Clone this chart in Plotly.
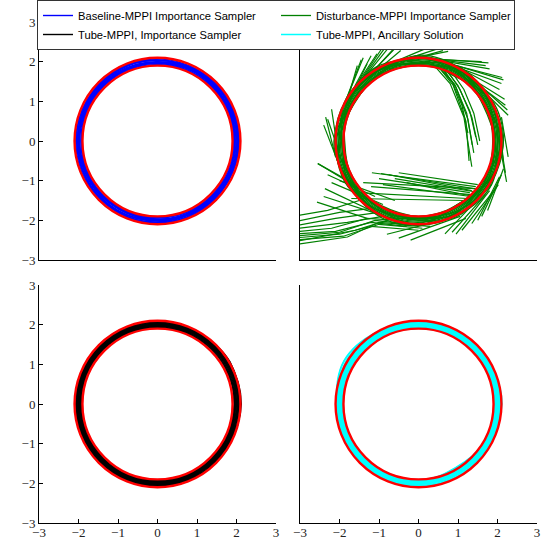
import numpy as np
import plotly.graph_objects as go

# ---------------- data ----------------
AXIS_RANGE = [-3, 3]
AXIS_TICKS = [-3, -2, -1, 0, 1, 2, 3]
TUBE_RADII = [1.9, 2.1]                       # red tube boundaries
RING_ANGLES_DEG = [0, 30, 60, 90, 120, 150, 180, 210, 240, 270, 300, 330, 360]

LEGEND_NAMES = ["Baseline-MPPI Importance Sampler",
                "Disturbance-MPPI Importance Sampler",
                "Tube-MPPI, Importance Sampler",
                "Tube-MPPI, Ancillary Solution"]

# Baseline-MPPI trajectories: radius at each ring angle
BASELINE_RADII = [
    [2.07, 2.07, 2.06, 2.07, 2.07, 2.06, 2.07, 2.07, 2.06, 2.07, 2.07, 2.06, 2.07],
    [2.05, 2.06, 2.05, 2.04, 2.05, 2.06, 2.05, 2.04, 2.05, 2.06, 2.05, 2.05, 2.05],
    [2.03, 2.04, 2.03, 2.04, 2.03, 2.02, 2.03, 2.04, 2.03, 2.02, 2.03, 2.04, 2.03],
    [2.01, 2.02, 2.01, 2.00, 2.01, 2.02, 2.01, 2.00, 2.02, 2.01, 2.01, 2.02, 2.01],
    [1.99, 1.98, 1.99, 2.00, 1.99, 1.98, 1.99, 2.00, 1.98, 1.99, 2.00, 1.99, 1.99],
    [1.97, 1.96, 1.97, 1.98, 1.97, 1.96, 1.97, 1.96, 1.97, 1.98, 1.97, 1.96, 1.97],
    [1.95, 1.95, 1.94, 1.95, 1.96, 1.95, 1.94, 1.95, 1.95, 1.94, 1.95, 1.96, 1.95],
    [1.93, 1.94, 1.93, 1.93, 1.94, 1.93, 1.93, 1.94, 1.93, 1.93, 1.94, 1.93, 1.93],
    [2.06, 2.04, 2.02, 2.04, 2.06, 2.04, 2.02, 2.04, 2.06, 2.04, 2.02, 2.04, 2.06],
    [1.96, 1.98, 2.00, 1.98, 1.96, 1.98, 2.00, 1.98, 1.96, 1.98, 2.00, 1.98, 1.96],
    [2.02, 2.00, 1.98, 1.96, 1.98, 2.00, 2.02, 2.04, 2.02, 2.00, 1.98, 2.00, 2.02],
    [2.04, 1.97, 2.01, 2.04, 2.06, 2.03, 1.99, 1.96, 1.94, 1.97, 2.01, 2.05, 2.04],
]

# Tube-MPPI importance sampler trajectories
TUBE_IS_RADII = [
    [2.08, 2.09, 2.08, 2.08, 2.09, 2.08, 2.08, 2.09, 2.08, 2.08, 2.09, 2.08, 2.08],
    [2.06, 2.10, 2.07, 2.06, 2.07, 2.06, 2.07, 2.06, 2.07, 2.06, 2.07, 2.05, 2.06],
    [2.04, 2.06, 2.05, 2.04, 2.05, 2.05, 2.04, 2.05, 2.04, 2.05, 2.04, 2.03, 2.04],
    [2.02, 2.04, 2.03, 2.02, 2.03, 2.03, 2.02, 2.03, 2.02, 2.03, 2.02, 2.01, 2.02],
    [2.00, 2.02, 2.01, 2.00, 2.01, 2.01, 2.00, 2.01, 2.00, 2.01, 2.00, 1.99, 2.00],
    [1.98, 2.00, 1.99, 1.98, 1.99, 1.99, 1.98, 1.99, 1.98, 1.99, 1.98, 1.97, 1.98],
    [1.96, 1.98, 1.97, 1.96, 1.97, 1.97, 1.96, 1.97, 1.96, 1.97, 1.96, 1.95, 1.96],
    [1.94, 1.96, 1.95, 1.94, 1.95, 1.95, 1.94, 1.95, 1.94, 1.95, 1.94, 1.93, 1.94],
    [1.95, 1.94, 1.93, 1.93, 1.93, 1.93, 1.93, 1.93, 1.93, 1.93, 1.93, 1.94, 1.95],
    [2.10, 2.11, 2.08, 2.07, 2.07, 2.08, 2.08, 2.07, 2.07, 2.08, 2.07, 2.09, 2.10],
    [2.12, 2.09, 2.05, 2.03, 2.03, 2.04, 2.05, 2.06, 2.05, 2.04, 2.03, 2.06, 2.12],
    [2.03, 2.12, 2.06, 2.00, 1.99, 2.00, 2.01, 2.02, 2.00, 1.98, 2.00, 2.02, 2.03],
    [2.10, 2.02, 2.00, 1.99, 2.00, 2.02, 2.03, 2.01, 2.00, 2.01, 2.02, 2.05, 2.10],
    [1.97, 2.08, 2.03, 1.97, 1.96, 1.96, 1.97, 1.98, 1.97, 1.96, 1.97, 1.98, 1.97],
]

# Tube-MPPI ancillary solution trajectories
TUBE_ANC_RADII = [
    [2.09, 2.09, 2.09, 2.09, 2.09, 2.10, 2.09, 2.09, 2.09, 2.09, 2.09, 2.09, 2.09],
    [2.07, 2.08, 2.07, 2.07, 2.07, 2.08, 2.07, 2.07, 2.07, 2.07, 2.07, 2.07, 2.07],
    [2.05, 2.05, 2.05, 2.05, 2.05, 2.06, 2.05, 2.05, 2.05, 2.05, 2.04, 2.05, 2.05],
    [2.03, 2.03, 2.03, 2.03, 2.03, 2.04, 2.03, 2.03, 2.03, 2.03, 2.02, 2.03, 2.03],
    [2.01, 2.01, 2.01, 2.01, 2.01, 2.02, 2.01, 2.01, 2.01, 2.01, 2.00, 2.01, 2.01],
    [1.99, 1.99, 1.99, 1.99, 1.99, 2.00, 1.99, 1.99, 1.99, 1.99, 1.98, 1.99, 1.99],
    [1.97, 1.97, 1.97, 1.97, 1.97, 1.98, 1.97, 1.97, 1.97, 1.97, 1.96, 1.97, 1.97],
    [1.95, 1.95, 1.95, 1.95, 1.95, 1.96, 1.95, 1.95, 1.95, 1.95, 1.94, 1.95, 1.95],
    [1.93, 1.93, 1.93, 1.93, 1.93, 1.94, 1.93, 1.93, 1.93, 1.93, 1.92, 1.93, 1.93],
    [1.91, 1.92, 1.91, 1.91, 1.91, 1.92, 1.91, 1.91, 1.91, 1.91, 1.90, 1.91, 1.91],
    [2.06, 2.07, 2.05, 2.04, 2.08, 2.17, 2.05, 2.03, 2.02, 2.02, 1.90, 1.98, 2.06],
    [2.11, 2.05, 2.03, 2.05, 2.10, 2.18, 2.07, 2.04, 2.01, 1.98, 1.87, 1.96, 2.11],
    [1.98, 2.02, 2.04, 2.06, 2.07, 2.13, 2.03, 2.00, 1.98, 1.96, 1.86, 1.94, 1.98],
]

# Disturbance-MPPI trajectories along the ring
DIST_RING_RADII = [
    [2.11, 2.10, 2.12, 2.11, 2.10, 2.11, 2.12, 2.10, 2.11, 2.12, 2.10, 2.11, 2.11],
    [2.08, 2.07, 2.09, 2.08, 2.07, 2.09, 2.08, 2.07, 2.08, 2.09, 2.08, 2.07, 2.08],
    [2.05, 2.04, 2.06, 2.05, 2.06, 2.05, 2.04, 2.05, 2.06, 2.05, 2.04, 2.06, 2.05],
    [2.02, 2.01, 2.03, 2.02, 2.03, 2.02, 2.01, 2.02, 2.03, 2.02, 2.01, 2.03, 2.02],
    [1.99, 1.98, 2.00, 1.99, 2.00, 1.99, 1.98, 1.99, 2.00, 1.99, 1.98, 2.00, 1.99],
    [1.96, 1.95, 1.97, 1.96, 1.97, 1.96, 1.95, 1.96, 1.97, 1.96, 1.95, 1.97, 1.96],
    [1.93, 1.92, 1.94, 1.93, 1.94, 1.93, 1.92, 1.93, 1.94, 1.93, 1.92, 1.94, 1.93],
    [1.90, 1.89, 1.91, 1.90, 1.91, 1.90, 1.89, 1.90, 1.91, 1.90, 1.89, 1.91, 1.90],
    [2.14, 2.06, 1.98, 2.10, 2.04, 1.95, 2.08, 2.13, 2.02, 1.96, 2.09, 2.12, 2.14],
    [1.92, 2.03, 2.13, 1.97, 2.05, 2.12, 1.94, 1.99, 2.10, 2.07, 1.93, 2.01, 1.92],
    [2.00, 2.10, 2.05, 1.92, 2.12, 2.00, 1.90, 2.06, 2.12, 1.94, 2.02, 2.10, 2.00],
    [2.09, 1.93, 2.02, 2.11, 1.91, 2.07, 2.10, 1.92, 1.97, 2.11, 2.05, 1.92, 2.09],
    [1.88, 1.96, 2.07, 2.14, 1.98, 1.88, 2.02, 2.12, 1.90, 2.00, 2.14, 1.96, 1.88],
    [2.15, 2.12, 1.87, 2.02, 2.15, 2.06, 1.87, 1.95, 2.14, 2.13, 1.88, 2.04, 2.15],
    [1.94, 1.87, 2.10, 2.16, 1.95, 1.90, 2.14, 2.04, 1.88, 1.91, 2.11, 2.15, 1.94],
]

# Disturbance-MPPI rollouts leaving the ring: polylines of (x, y)
DIST_ROLLOUTS = [
    # upper-left, leaving the ring upward
    [(-2.00, 0.60), (-1.45, 2.05)], [(-1.95, 0.75), (-1.40, 2.10)],
    [(-2.00, 0.50), (-1.30, 1.95)], [(-1.85, 1.00), (-1.05, 2.20)],
    [(-1.70, 1.20), (-0.72, 2.40)], [(-1.60, 1.30), (-0.55, 2.38)],
    [(-1.50, 1.40), (-0.45, 2.28)], [(-1.75, 1.10), (-0.95, 2.30)],
    [(-1.90, 0.85), (-1.20, 2.15)], [(-1.65, 1.25), (-0.85, 2.35)],
    [(-2.05, -0.50), (-2.40, 0.40)], [(-2.00, -0.30), (-2.30, 0.55)],
    [(-2.05, -0.20), (-2.20, 0.80)], [(-2.10, -0.40), (-2.35, 0.60)],
    [(-1.98, 0.40), (-1.55, 1.90)], [(-1.80, 1.05), (-0.65, 2.30)],
    # top, leaving toward the right
    [(-0.60, 2.00), (0.30, 2.38)], [(-0.30, 2.05), (0.75, 2.26)],
    [(-0.20, 2.05), (0.62, 2.28)], [(-0.45, 2.02), (0.50, 2.33)],
    [(0.30, 2.08), (1.77, 1.97)], [(0.50, 2.05), (1.70, 1.90)],
    [(0.40, 2.06), (1.60, 2.00)], [(0.60, 2.02), (1.80, 1.82)],
    [(0.90, 1.92), (2.15, 1.54)], [(1.00, 1.85), (2.10, 1.45)],
    [(1.20, 1.75), (2.05, 1.30)], [(0.95, 1.90), (2.12, 1.60)],
    [(1.50, 1.45), (2.25, 0.78)], [(1.40, 1.50), (2.20, 0.90)],
    [(1.60, 1.30), (2.27, 0.65)], [(1.30, 1.60), (2.18, 1.05)],
    # cutting the corner inside the ring, top to right
    [(0.40, 1.90), (0.80, 1.45), (1.15, 0.60), (1.35, -0.65)],
    [(0.50, 1.88), (0.88, 1.40), (1.20, 0.50), (1.28, -0.50)],
    [(0.60, 1.85), (0.95, 1.35), (1.25, 0.55), (1.40, -0.30)],
    [(0.70, 1.82), (1.05, 1.30), (1.35, 0.60), (1.50, -0.10)],
    [(0.45, 1.92), (0.85, 1.50), (1.10, 0.90), (1.25, 0.20)],
    [(0.65, 1.85), (1.00, 1.40), (1.30, 0.75), (1.45, 0.10)],
    [(0.80, 1.80), (1.15, 1.30), (1.40, 0.70), (1.55, 0.00)],
    [(0.55, 1.87), (0.92, 1.42), (1.22, 0.70), (1.36, -0.10)],
    # right side, leaving downward
    [(2.00, 0.20), (2.23, -1.03)], [(2.05, 0.40), (2.15, -0.50)],
    [(2.10, 0.60), (2.27, -0.40)], [(2.02, 0.30), (2.20, -0.80)],
    # lower-right, leaving down-left
    [(2.02, -1.10), (1.35, -2.08)], [(1.85, -1.10), (0.67, -2.34)],
    [(2.05, -0.90), (1.50, -2.00)], [(1.95, -1.20), (1.10, -2.25)],
    [(2.15, -0.70), (1.75, -1.75)], [(1.70, -1.35), (0.85, -2.30)],
    [(1.80, -1.25), (0.95, -2.35)], [(2.10, -0.85), (1.60, -1.90)],
    # across the lower interior
    [(1.45, -1.15), (-1.18, -0.80)], [(1.40, -1.20), (-0.95, -0.82)],
    [(1.35, -1.25), (-0.75, -0.85)], [(1.50, -1.10), (-0.50, -0.80)],
    [(1.30, -1.30), (-1.00, -0.95)], [(1.45, -1.20), (-1.40, -1.05)],
    [(1.35, -1.35), (-1.20, -1.15)], [(1.25, -1.45), (-1.55, -1.30)],
    [(1.40, -1.40), (-0.30, -1.05)], [(1.20, -1.50), (-1.70, -1.45)],
    [(1.42, -1.28), (-0.60, -0.95)], [(1.32, -1.40), (-0.90, -1.10)],
    # lower-left, outside the ring
    [(-1.60, -1.10), (-2.55, -0.57)], [(-2.57, -1.54), (-1.30, -1.95)],
    [(-2.37, -1.20), (-1.20, -1.75)], [(-2.55, -0.57), (-1.50, -1.20)],
    [(-2.20, -1.05), (-0.90, -1.60)], [(-2.40, -1.40), (-1.00, -1.85)],
    [(-2.00, -1.00), (-0.60, -1.50)], [(-2.30, -0.85), (-1.10, -1.40)],
    # bundle running off the left edge
    [(0.30, -2.15), (-1.00, -2.05), (-1.80, -2.42), (-3.20, -2.62)],
    [(0.10, -2.20), (-1.00, -2.10), (-1.90, -2.40), (-3.20, -2.50)],
    [(-0.20, -2.10), (-1.10, -2.00), (-2.00, -2.30), (-3.20, -2.40)],
    [(-0.50, -2.00), (-1.30, -1.95), (-2.20, -2.20), (-3.20, -2.30)],
    [(-1.20, -1.70), (-2.00, -1.80), (-3.20, -2.05)],
    [(-1.00, -1.80), (-2.10, -1.95), (-3.20, -2.15)],
    [(-1.50, -1.50), (-2.30, -1.75), (-3.20, -1.90)],
    [(-0.80, -2.00), (-1.60, -2.25), (-3.20, -2.55)],
    [(0.00, -2.25), (-1.20, -2.15), (-2.00, -2.35), (-3.20, -2.45)],
    [(-0.30, -2.15), (-1.20, -2.05), (-2.10, -2.28), (-3.20, -2.35)],
    [(-0.90, -1.90), (-1.80, -2.05), (-3.20, -2.22)],
    # below the ring at the bottom
    [(-0.50, -2.45), (1.05, -1.90)], [(-0.20, -2.50), (1.20, -1.95)],
    [(-0.80, -2.35), (0.80, -1.95)],
]

# ---------------- styling ----------------
BLUE, GREEN, BLACK, CYAN, RED = "#0000ff", "#008000", "#000000", "#00ffff", "#ff0000"
TICK_FONT = dict(family="Liberation Serif", size=13, color="#222222")

fig = go.Figure()
theta = np.deg2rad(np.array(RING_ANGLES_DEG, dtype=float))


def add_ring(radii_sets, color, axis_idx, name, rank, width=1.2):
    xa = "x" if axis_idx == 1 else f"x{axis_idx}"
    ya = "y" if axis_idx == 1 else f"y{axis_idx}"
    for i, radii in enumerate(radii_sets):
        r = np.array(radii)
        fig.add_trace(go.Scatter(
            x=r * np.cos(theta), y=r * np.sin(theta), mode="lines",
            line=dict(color=color, width=width, shape="spline"),
            xaxis=xa, yaxis=ya, name=name, legendrank=rank,
            showlegend=(i == 0), hoverinfo="skip"))


add_ring(BASELINE_RADII, BLUE, 1, LEGEND_NAMES[0], 1, width=1.4)
add_ring(DIST_RING_RADII, GREEN, 2, LEGEND_NAMES[1], 2, width=1.3)
for seg in DIST_ROLLOUTS:
    fig.add_trace(go.Scatter(
        x=[p[0] for p in seg], y=[p[1] for p in seg], mode="lines",
        line=dict(color=GREEN, width=1.2), xaxis="x2", yaxis="y2",
        showlegend=False, hoverinfo="skip"))
add_ring(TUBE_IS_RADII, BLACK, 3, LEGEND_NAMES[2], 3, width=1.4)
add_ring(TUBE_ANC_RADII, CYAN, 4, LEGEND_NAMES[3], 4, width=1.5)

# red tube boundaries on every panel
for k in range(1, 5):
    xr = "x" if k == 1 else f"x{k}"
    yr = "y" if k == 1 else f"y{k}"
    for rad in TUBE_RADII:
        fig.add_shape(type="circle", xref=xr, yref=yr,
                      x0=-rad, y0=-rad, x1=rad, y1=rad,
                      line=dict(color=RED, width=2.4), layer="above")

W, H = 556, 541
XD = [[39 / W, 276 / W], [300 / W, 537 / W]]
YD = [[(H - 260) / H, (H - 22) / H], [(H - 523) / H, (H - 285) / H]]


def axis(domain, show_labels, anchor, standoff=0):
    return dict(domain=domain, range=AXIS_RANGE, anchor=anchor,
                showline=True, linecolor="black", linewidth=1,
                showgrid=False, zeroline=False, mirror=False,
                tickvals=AXIS_TICKS, ticks="inside" if show_labels else "",
                ticklen=4, tickcolor="black", tickwidth=1,
                showticklabels=show_labels, tickfont=TICK_FONT,
                ticklabelstandoff=standoff)


fig.update_layout(
    width=W, height=H, margin=dict(l=0, r=0, t=0, b=0),
    template="none", paper_bgcolor="white", plot_bgcolor="white",
    showlegend=True,
    xaxis=axis(XD[0], False, "y"), yaxis=axis(YD[0], True, "x"),
    xaxis2=axis(XD[1], False, "y2"), yaxis2=axis(YD[0], False, "x2"),
    xaxis3=axis(XD[0], True, "y3", -3), yaxis3=axis(YD[1], True, "x3"),
    xaxis4=axis(XD[1], True, "y4", -3), yaxis4=axis(YD[1], False, "x4"),
    legend=dict(orientation="h", x=37 / W, y=1, xanchor="left", yanchor="top",
                entrywidth=193, entrywidthmode="pixels", traceorder="normal",
                bgcolor="white", bordercolor="#333333", borderwidth=1,
                font=dict(family="Liberation Sans", size=11.2, color="black"),
                itemwidth=30, tracegroupgap=0),
)

fig.write_html("out.html", config={"displayModeBar": False},
               post_script="document.body.style.margin='0px';")
